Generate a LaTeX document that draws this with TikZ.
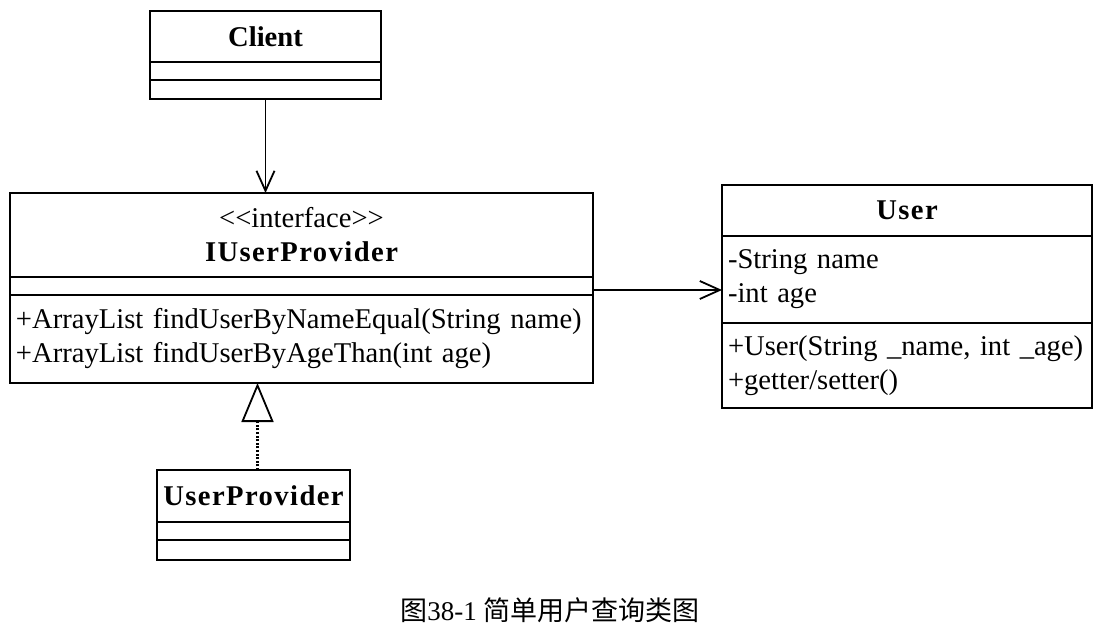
\documentclass[tikz,border=0pt]{standalone}
\usepackage{fontspec}
\setmainfont{Liberation Serif}
\newfontfamily\cjk{Noto Sans CJK SC}
\usetikzlibrary{arrows.meta}

\begin{document}
\begin{tikzpicture}[x=0.5pt, y=-0.5pt,
		part/.style={draw, line width=1.3pt, outer sep=0pt, anchor=north west, inner xsep=3pt, inner ysep=0pt, font=\fontsize{14.3}{17}\selectfont},
		namepart/.style={part, align=center, font=\fontsize{14.3}{17}\selectfont\bfseries},
		listpart/.style={part, align=left},
		spaced/.style={font=\fontsize{14.3}{17}\selectfont\bfseries\addfontfeature{LetterSpace=5}},
		uses/.style={line width=0.9pt, -{Straight Barb[length=10pt, width=9pt, line width=0.9pt]}},
		realizes/.style={line width=1.1pt, dash pattern=on 1pt off 0.8pt, -{Triangle[open, length=19.5pt, width=16pt, line width=0.9pt]}}]
		\useasboundingbox (0,0) rectangle (1105,634);
		\node[namepart, text width=109.5pt, minimum height=25.5pt] (client) at (150,11) {Client};
		\node[part, text width=109.5pt, minimum height=9pt] (clientattr) at (client.south west) {};
		\node[part, text width=109.5pt, minimum height=9.5pt] (clientops) at (clientattr.south west) {};
		\node[namepart, text width=285.5pt, minimum height=42pt] (iface) at (10,193) {{\mdseries <\kern0pt<interface>\kern0pt>}\\{\addfontfeature{LetterSpace=5}IUserProvider}};
		\node[part, text width=285.5pt, minimum height=9pt] (ifaceattr) at (iface.south west) {};
		\node[listpart, text width=285.5pt, minimum height=44pt] (ifaceops) at (ifaceattr.south west) {+ArrayList findUserByNameEqual(String name)\\+ArrayList findUserByAgeThan(int age)};
		\node[namepart, spaced, text width=179pt, minimum height=25.5pt] (user) at (722,185) {User};
		\node[listpart, text width=179pt, minimum height=43.5pt] (userattr) at (user.south west) {-String name\\-int age};
		\node[listpart, text width=179pt, minimum height=42.5pt] (userops) at (userattr.south west) {+User(String \_name, int \_age)\\+getter/setter()};
		\node[namepart, spaced, text width=90.5pt, minimum height=26pt] (uprov) at (157,470) {UserProvider};
		\node[part, text width=90.5pt, minimum height=9pt] (uprovattr) at (uprov.south west) {};
		\node[part, text width=90.5pt, minimum height=10pt] (uprovops) at (uprovattr.south west) {};
		\node[font=\fontsize{13.5}{16}\selectfont] (caption) at (550,610) {{\cjk 图}38-1 {\cjk 简单用户查询类图}};
		\draw[uses] (clientops.south) -- (clientops.south |- iface.north);
		\draw[uses] ([yshift=-2pt]ifaceattr.east) -- ([yshift=-2pt]ifaceattr.east -| userattr.west);
		\draw[realizes] ([xshift=2pt]uprov.north) -- ([xshift=2pt]uprov.north |- ifaceops.south);
\end{tikzpicture}
\end{document}
